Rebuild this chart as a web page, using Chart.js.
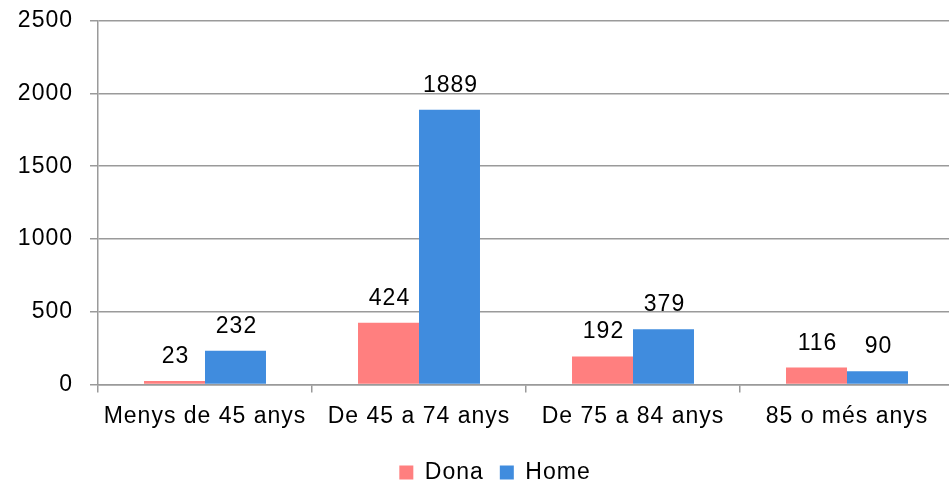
<!DOCTYPE html>
<html>
<head>
<meta charset="utf-8">
<script src="https://cdn.jsdelivr.net/npm/chart.js@4.4.0/dist/chart.umd.min.js"></script>
<style>
html, body { margin: 0; padding: 0; background: #fff; overflow: hidden; }
canvas { display: block; margin-top: -10px; }
</style>
</head>
<body>
<canvas id="myChart" width="956" height="491"></canvas>
<script>
const categories = ["Menys de 45 anys", "De 45 a 74 anys", "De 75 a 84 anys", "85 o més anys"];
const dona = [23, 424, 192, 116];
const home = [232, 1889, 379, 90];
const yMin = 0;
const yMax = 2500;
const yStep = 500;

const fontFamily = '"Liberation Sans", Arial, sans-serif';
const fontSize = 23;
const gridColor = '#9a9a9a';

// wider letter spacing, like the original text
const spacing = {
    id: 'spacing',
    beforeLayout(chart) { chart.ctx.letterSpacing = '1px'; },
    afterLayout(chart) { chart.legend.left += 36; },
    beforeDraw(chart) { chart.ctx.letterSpacing = '1px'; }
};

// numbers above the bars
const valueLabels = {
    id: 'valueLabels',
    afterDatasetsDraw(chart)
    {
        const ctx = chart.ctx;
        ctx.save();
        ctx.font = fontSize + 'px ' + fontFamily;
        ctx.fillStyle = '#000';
        ctx.textAlign = 'center';
        ctx.textBaseline = 'alphabetic';
        chart.data.datasets.forEach((ds, i) => {
            chart.getDatasetMeta(i).data.forEach((bar, j) => {
                ctx.fillText(String(ds.data[j]), bar.x + 1, bar.y - 18);
            });
        });
        ctx.restore();
    }
};

new Chart(document.getElementById("myChart"), {
    type: 'bar',
    data: {
        labels: categories,
        datasets: [
            { label: 'Dona', data: dona, backgroundColor: '#ff7f7f', borderWidth: 0 },
            { label: 'Home', data: home, backgroundColor: '#408cde', borderWidth: 0 }
        ]
    },
    options: {
        responsive: false,
        animation: false,
        devicePixelRatio: 1,
        categoryPercentage: 0.57,
        barPercentage: 1,
        layout: { padding: { top: 0, right: 2, left: 0, bottom: -13 } },
        plugins: {
            tooltip: { enabled: false },
            legend: {
                position: 'bottom',
                labels: {
                    boxWidth: 14,
                    boxHeight: 14,
                    padding: 16,
                    color: '#000',
                    font: { size: fontSize, family: fontFamily }
                }
            }
        },
        scales: {
            x: {
                offset: true,
                afterFit: s => { s.height += 5; },
                grid: { drawOnChartArea: false, drawTicks: true, tickLength: 8, color: gridColor, offset: true, lineWidth: 1.5 },
                border: { color: gridColor, width: 1.5 },
                ticks: { color: '#000', padding: 10, maxRotation: 0, minRotation: 0, autoSkip: false, font: { size: fontSize, family: fontFamily } }
            },
            y: {
                min: yMin,
                max: yMax,
                afterFit: s => { s.width = 98; },
                grid: { color: gridColor, tickLength: 8, lineWidth: 1.5 },
                border: { color: gridColor, width: 1.5 },
                ticks: {
                    stepSize: yStep,
                    color: '#000',
                    padding: 17,
                    font: { size: fontSize, family: fontFamily },
                    callback: v => String(v)
                }
            }
        }
    },
    plugins: [spacing, valueLabels]
});
</script>
</body>
</html>
